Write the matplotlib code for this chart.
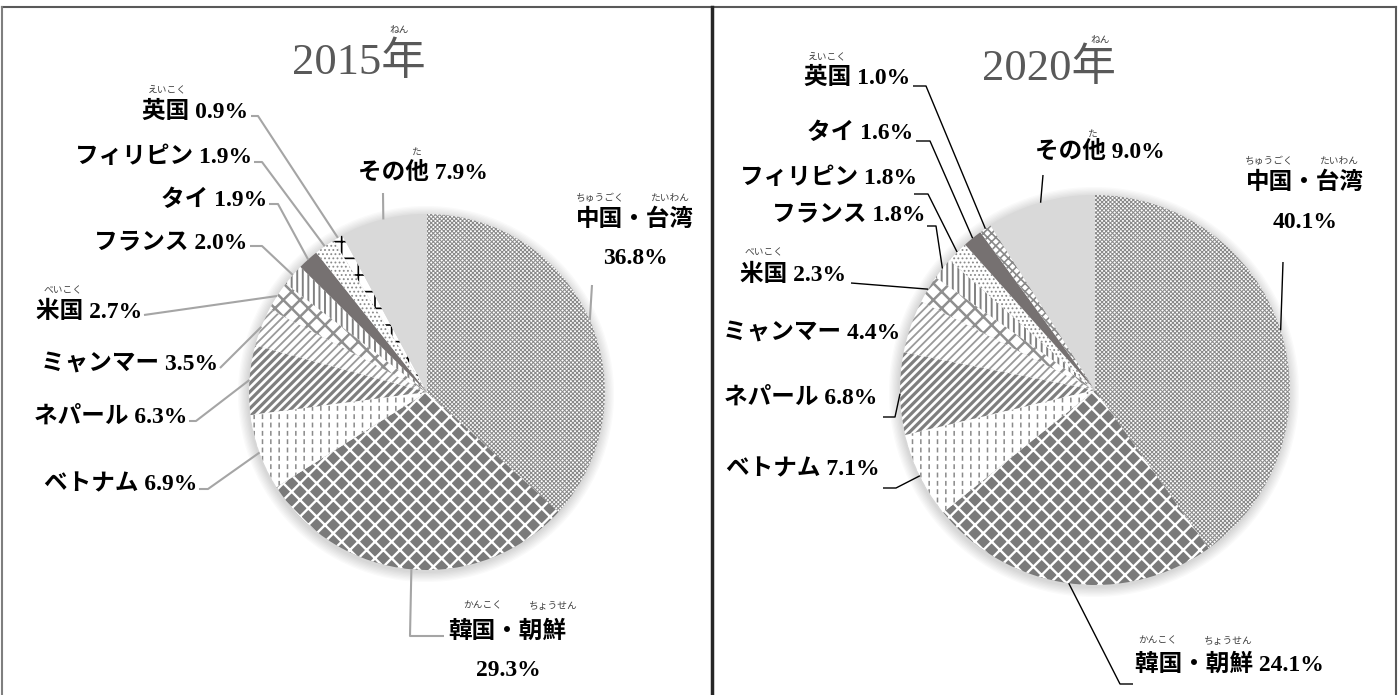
import matplotlib.pyplot as plt
from matplotlib.patches import Wedge, Circle
import numpy as np

plt.rcParams['font.family'] = ['Liberation Serif', 'Noto Sans CJK JP']

# --- data ---
cats_2015 = ['中国・台湾', '韓国・朝鮮', 'ベトナム', 'ネパール', 'ミャンマー', '米国',
             'フランス', 'タイ', 'フィリピン', '英国', 'その他']
vals_2015 = [36.8, 29.3, 6.9, 6.3, 3.5, 2.7, 2.0, 1.9, 1.9, 0.9, 7.9]

cats_2020 = ['中国・台湾', '韓国・朝鮮', 'ベトナム', 'ネパール', 'ミャンマー', '米国',
             'フランス', 'フィリピン', 'タイ', '英国', 'その他']
vals_2020 = [40.1, 24.1, 7.1, 6.8, 4.4, 2.3, 1.8, 1.8, 1.6, 1.0, 9.0]

titles = ['2015年', '2020年']

# fill patterns per category: face colour, hatch colour, hatch, hatch linewidth
styles = {
    '中国・台湾': ('white', '#8a8a8a', 'xxxxxxxx', 0.75),
    '韓国・朝鮮': ('#7a7a7a', 'white', 'xx', 1.7),
    'ベトナム': ('white', '#8a8a8a', '||', 1.1),
    'ネパール': ('white', '#7f7f7f', '////', 2.3),
    'ミャンマー': ('white', '#9a9a9a', '////', 1.3),
    '米国': ('white', '#8f8f8f', 'xx', 1.8),
    'フランス': ('white', '#808080', '|||', 1.4),
    'タイ': ('#767171', '#767171', '', 1.0),
    'フィリピン': ('white', '#8a8a8a', '....', 0.8),
    'その他': ('#d9d9d9', '#d9d9d9', '', 1.0),
}
uk_style = [('white', 'black', '+', 1.2), ('white', '#8a8a8a', 'xxxx', 1.2)]

# --- layout (pixel coordinates of the picture) ---
centers = [(427, 392), (1095, 390)]
radii = [178, 195]
title_pos = [(359, 62), (1049, 68)]
line_style = [('#a5a5a5', 1.5), ('black', 1.0)]

lab15 = {
    '英国': dict(xy=(248, 112), ha='right', line=[(251, 116), (258, 116)]),
    'フィリピン': dict(xy=(252, 157), ha='right', line=[(254, 162), (262, 162)]),
    'タイ': dict(xy=(267, 200), ha='right', line=[(269, 204), (278, 204)]),
    'フランス': dict(xy=(247, 243), ha='right', line=[(250, 246), (262, 246)]),
    '米国': dict(xy=(142, 312), ha='right', line=[(144, 315)]),
    'ミャンマー': dict(xy=(218, 364), ha='right', line=[(220, 368)]),
    'ネパール': dict(xy=(187, 417), ha='right', line=[(189, 421), (196, 421)]),
    'ベトナム': dict(xy=(197, 485), ha='right', line=[(199, 489), (208, 489)]),
    'その他': dict(xy=(423, 173), ha='center', line=[(383, 193)]),
    '中国・台湾': dict(xy=(635, 220), ha='center', pct=(635, 258), line=[(592, 285)]),
    '韓国・朝鮮': dict(xy=(507, 632), ha='center', pct=(508, 670),
                   line=[(444, 636), (410, 636)]),
}
lab20 = {
    '英国': dict(xy=(910, 78), ha='right', line=[(913, 86), (926, 86)]),
    'タイ': dict(xy=(913, 133), ha='right', line=[(916, 141), (930, 141)]),
    'フィリピン': dict(xy=(917, 178), ha='right', line=[(914, 194), (928, 194)]),
    'フランス': dict(xy=(926, 215), ha='right', line=[(927, 226), (936, 226)]),
    '米国': dict(xy=(846, 275), ha='right', line=[(851, 283)]),
    'ミャンマー': dict(xy=(900, 333), ha='right', line=None),
    'ネパール': dict(xy=(877, 398), ha='right', line=[(883, 417), (895, 417)]),
    'ベトナム': dict(xy=(880, 470), ha='right', line=[(883, 488), (896, 488)]),
    'その他': dict(xy=(1100, 152), ha='center', line=[(1043, 175)]),
    '中国・台湾': dict(xy=(1305, 183), ha='center', pct=(1305, 223), line=[(1283, 262)]),
    '韓国・朝鮮': dict(xy=(1135, 665), ha='left', line=[(1133, 684), (1120, 684)]),
}
ruby15 = [('ねん', 399, 30), ('えいこく', 167, 90), ('べいこく', 63, 291), ('た', 416, 152),
          ('ちゅうごく', 600, 198), ('たいわん', 670, 198),
          ('かんこく', 483, 606), ('ちょうせん', 553, 606)]
ruby20 = [('ねん', 1100, 40), ('えいこく', 827, 57), ('べいこく', 764, 253), ('た', 1092, 134),
          ('ちゅうごく', 1269, 161), ('たいわん', 1339, 161),
          ('かんこく', 1158, 641), ('ちょうせん', 1228, 641)]

fig = plt.figure(figsize=(13.99, 6.95), dpi=100)
ax = fig.add_axes([0, 0, 1, 1])


def style_patch(p, st):
    fc, hc, hatch, hlw = st
    p.set_facecolor(fc)
    p.set_edgecolor(hc)
    p.set_linewidth(0)
    if hatch:
        p.set_hatch(hatch)
        if hasattr(p, 'set_hatch_linewidth'):
            p.set_hatch_linewidth(hlw)


def draw_pie(i, cats, vals, labels, ruby):
    cx, cy = centers[i]
    r = radii[i]
    # soft shadow round the pie
    for k in range(8):
        ax.add_patch(Circle((cx - 1, cy + 2), r + 1 + k * 1.3, color='black',
                            alpha=0.018, lw=0, zorder=0))
    wedges, _ = ax.pie(vals, center=(cx, cy), radius=r, startangle=-90,
                       counterclock=True, wedgeprops=dict(lw=0))
    lc, llw = line_style[i]
    for w, name, v in zip(wedges, cats, vals):
        w.set_zorder(2)
        st = uk_style[i] if name == '英国' else styles[name]
        style_patch(w, st)
        if name == 'ベトナム':
            # break the vertical lines into dashes
            ov = Wedge(w.center, w.r, w.theta1, w.theta2, facecolor='none',
                       edgecolor='white', hatch='--', lw=0, zorder=3)
            if hasattr(ov, 'set_hatch_linewidth'):
                ov.set_hatch_linewidth(2.5)
            ax.add_patch(ov)

        lab = labels[name]
        tx, ty = lab['xy']
        if 'pct' in lab:
            ax.text(tx, ty, name, ha=lab['ha'], va='center', fontsize=17,
                    fontweight='bold')
            px, py = lab['pct']
            ax.text(px, py, f'{v:.1f}%', ha='center', va='center', fontsize=17,
                    fontweight='bold')
        else:
            ax.text(tx, ty, f'{name} {v:.1f}%', ha=lab['ha'], va='center',
                    fontsize=17, fontweight='bold')
        if lab['line']:
            mid = np.deg2rad((w.theta1 + w.theta2) / 2)
            ex, ey = cx + r * np.cos(mid), cy + r * np.sin(mid)
            pts = lab['line'] + [(ex, ey)]
            ax.plot([p[0] for p in pts], [p[1] for p in pts], color=lc, lw=llw,
                    zorder=4, solid_capstyle='butt')

    tx, ty = title_pos[i]
    ax.text(tx, ty, titles[i], ha='center', va='center', fontsize=32,
            color='#595959')
    for txt, x, y in ruby:
        ax.text(x, y, txt, ha='center', va='center', fontsize=7, color='#404040')


draw_pie(0, cats_2015, vals_2015, lab15, ruby15)
draw_pie(1, cats_2020, vals_2020, lab20, ruby20)

# panel frames
ax.plot([2, 1396], [7, 7], color='#595959', lw=1.5, zorder=5)
ax.plot([2, 2], [7, 695], color='#7f7f7f', lw=1.5, zorder=5)
ax.plot([1396, 1396], [7, 695], color='#595959', lw=1.5, zorder=5)
ax.plot([712, 712], [7, 695], color='#262626', lw=2.5, zorder=5)

ax.set_xlim(0, 1399)
ax.set_ylim(695, 0)
ax.set_aspect('equal')
ax.axis('off')

fig.savefig('out.png', dpi=100)
